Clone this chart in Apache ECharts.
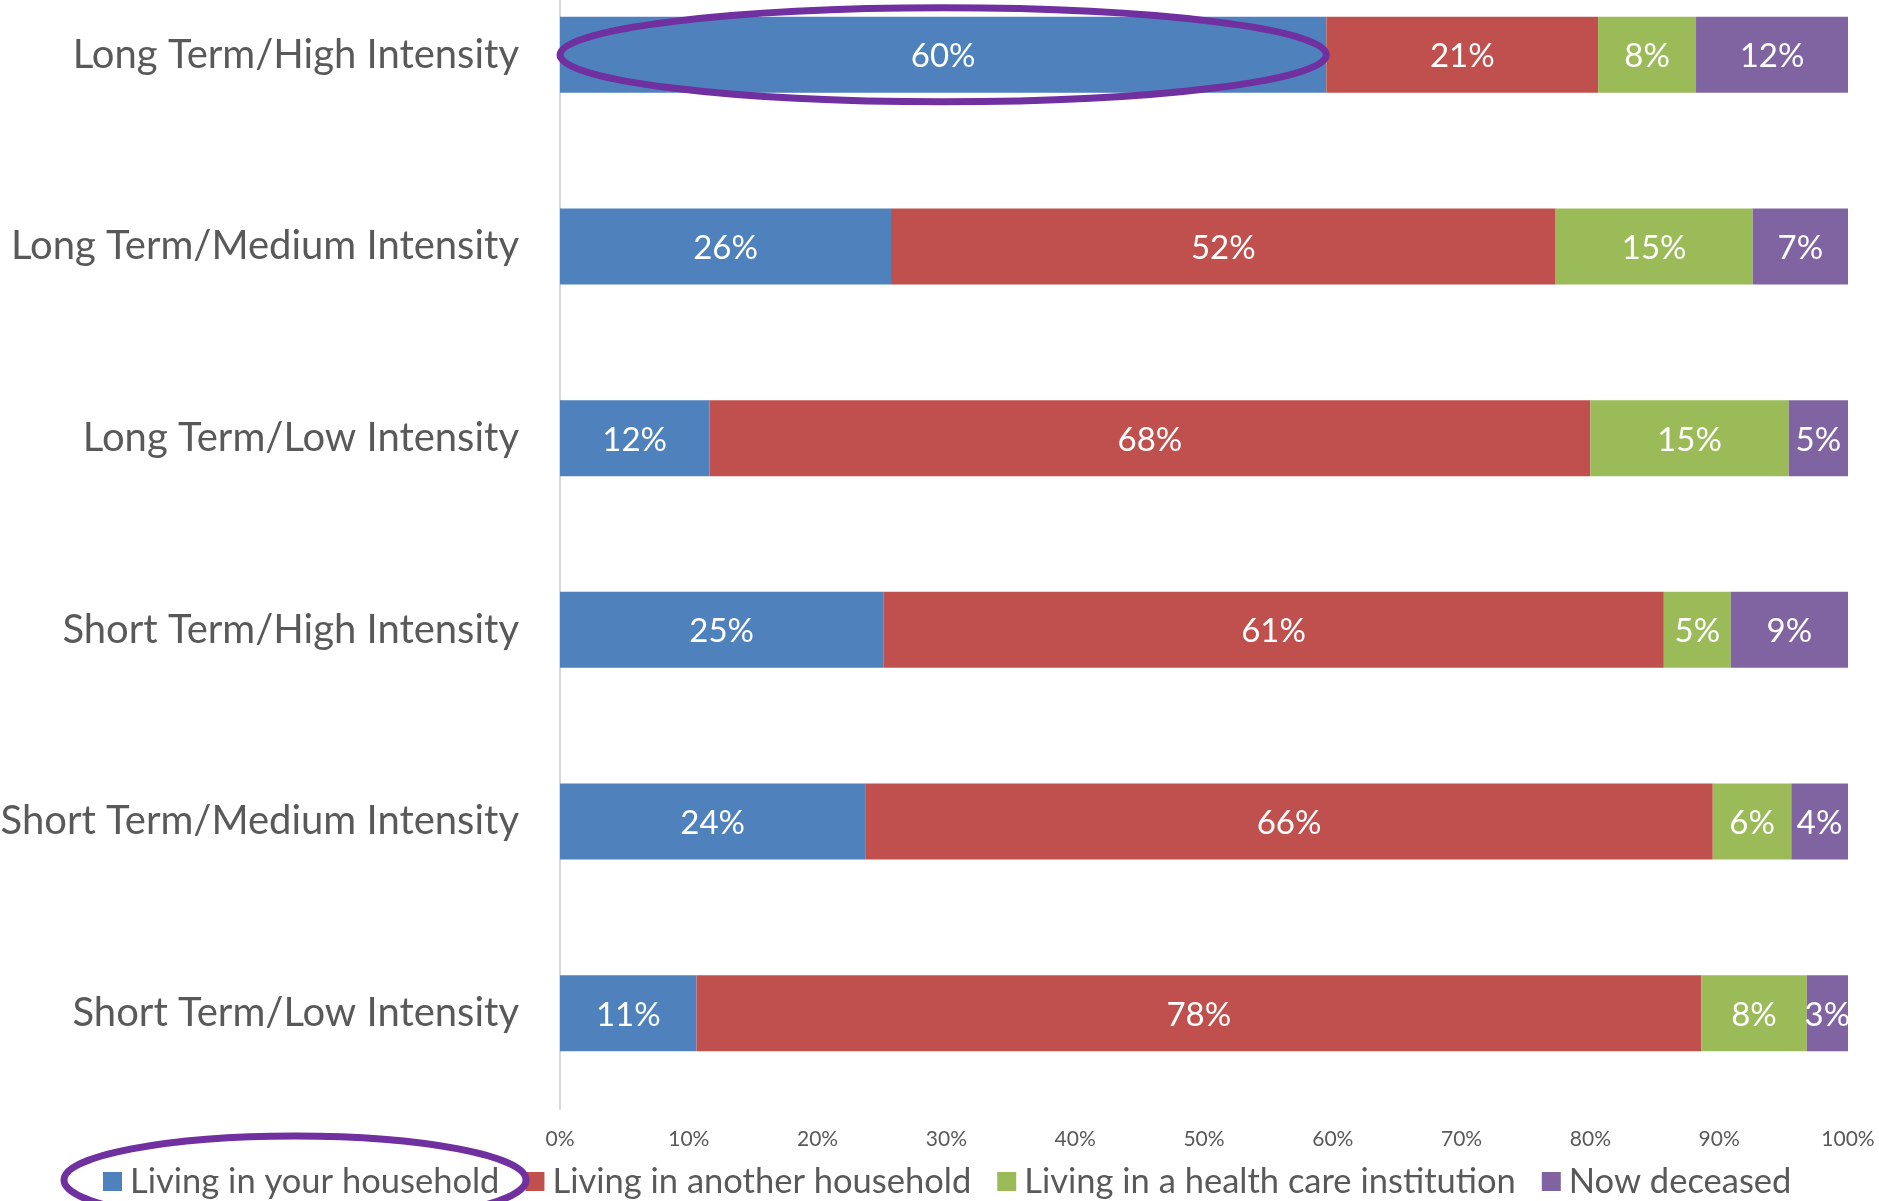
<!DOCTYPE html>
<html>
<head>
<meta charset="utf-8">
<title>Care recipient status by caregiving type</title>
<script src="https://cdn.jsdelivr.net/npm/echarts@6/dist/echarts.min.js"></script>
<style>
  html, body { margin: 0; padding: 0; background: #ffffff; }
  #chart { width: 1879px; height: 1201px; }
</style>
</head>
<body>
<div id="chart"></div>
<script>
// Caregiving categories, listed top to bottom
const categories = [
  'Long Term/High Intensity',
  'Long Term/Medium Intensity',
  'Long Term/Low Intensity',
  'Short Term/High Intensity',
  'Short Term/Medium Intensity',
  'Short Term/Low Intensity'
];

// Share of care recipients (percent of row total)
const livingInYourHousehold    = [59.5, 25.7, 11.6, 25.1, 23.7, 10.6];
const livingInAnotherHousehold = [21.1, 51.6, 68.4, 60.6, 65.8, 78.0];
const livingInHealthCare       = [7.6, 15.3, 15.4, 5.2, 6.1, 8.2];
const nowDeceased              = [11.8, 7.4, 4.6, 9.1, 4.4, 3.2];

const seriesNames = [
  'Living in your household',
  'Living in another household',
  'Living in a health care institution',
  'Now deceased'
];

const xTicks = [0, 10, 20, 30, 40, 50, 60, 70, 80, 90, 100];

const colors = ['#4F81BD', '#C0504D', '#9BBB59', '#8064A2'];
const FONT = 'Lato, "Open Sans", sans-serif';
const BAR_H = 76;

const chart = echarts.init(document.getElementById('chart'), null, { renderer: 'canvas' });

function makeSeries(name, values, color) {
  return {
    name: name,
    type: 'bar',
    stack: 'total',
    data: values,
    barWidth: BAR_H,
    itemStyle: { color: color },
    label: {
      show: true,
      position: 'inside',
      offset: [0, 2],
      color: '#ffffff',
      fontFamily: FONT,
      fontSize: 33,
      formatter: p => Math.round(p.value) + '%'
    },
    emphasis: { disabled: true }
  };
}

const option = {
  animation: false,
  color: colors,
  grid: {
    left: 560, right: 31, top: -41, height: 1150,
    containLabel: false,
    outerBoundsMode: 'none'
  },
  xAxis: {
    type: 'value',
    min: 0,
    max: 100,
    interval: 10,
    axisLine: { show: false },
    axisTick: { show: false },
    splitLine: { show: false },
    axisLabel: {
      color: '#595959',
      fontFamily: FONT,
      fontSize: 21,
      margin: 20,
      formatter: v => (xTicks.indexOf(v) >= 0 ? v + '%' : '')
    }
  },
  yAxis: {
    type: 'category',
    data: categories,
    inverse: true,
    axisLine: { show: true, lineStyle: { color: '#D9D9D9', width: 2 } },
    axisTick: { show: false },
    axisLabel: {
      color: '#595959',
      fontFamily: FONT,
      fontSize: 40,
      margin: 41,
      padding: [4, 0, 0, 0]
    }
  },
  legend: {
    left: 98,
    top: 1159,
    itemWidth: 19,
    itemHeight: 19,
    itemGap: 26,
    icon: 'rect',
    textStyle: {
      color: '#595959',
      fontFamily: FONT,
      fontSize: 34.5,
      padding: [0, 0, 0, 3]
    },
    data: seriesNames
  },
  series: [
    makeSeries(seriesNames[0], livingInYourHousehold, colors[0]),
    makeSeries(seriesNames[1], livingInAnotherHousehold, colors[1]),
    makeSeries(seriesNames[2], livingInHealthCare, colors[2]),
    makeSeries(seriesNames[3], nowDeceased, colors[3])
  ]
};

chart.setOption(option);

// Highlight rings: one around the first row's household segment, one around its legend entry
const p0 = chart.convertToPixel({ gridIndex: 0 }, [0, categories[0]]);
const p1 = chart.convertToPixel({ gridIndex: 0 }, [livingInYourHousehold[0], categories[0]]);
const ringStyle = { fill: 'none', stroke: '#7030A0', lineWidth: 7 };

chart.setOption({
  graphic: [
    {
      type: 'ellipse',
      silent: true,
      z: 100,
      shape: { cx: (p0[0] + p1[0]) / 2, cy: p0[1], rx: (p1[0] - p0[0]) / 2, ry: BAR_H / 2 + 9 },
      style: ringStyle
    },
    {
      type: 'ellipse',
      silent: true,
      z: 100,
      shape: { cx: 295, cy: 1180, rx: 231, ry: 44 },
      style: ringStyle
    }
  ]
});
</script>
</body>
</html>
